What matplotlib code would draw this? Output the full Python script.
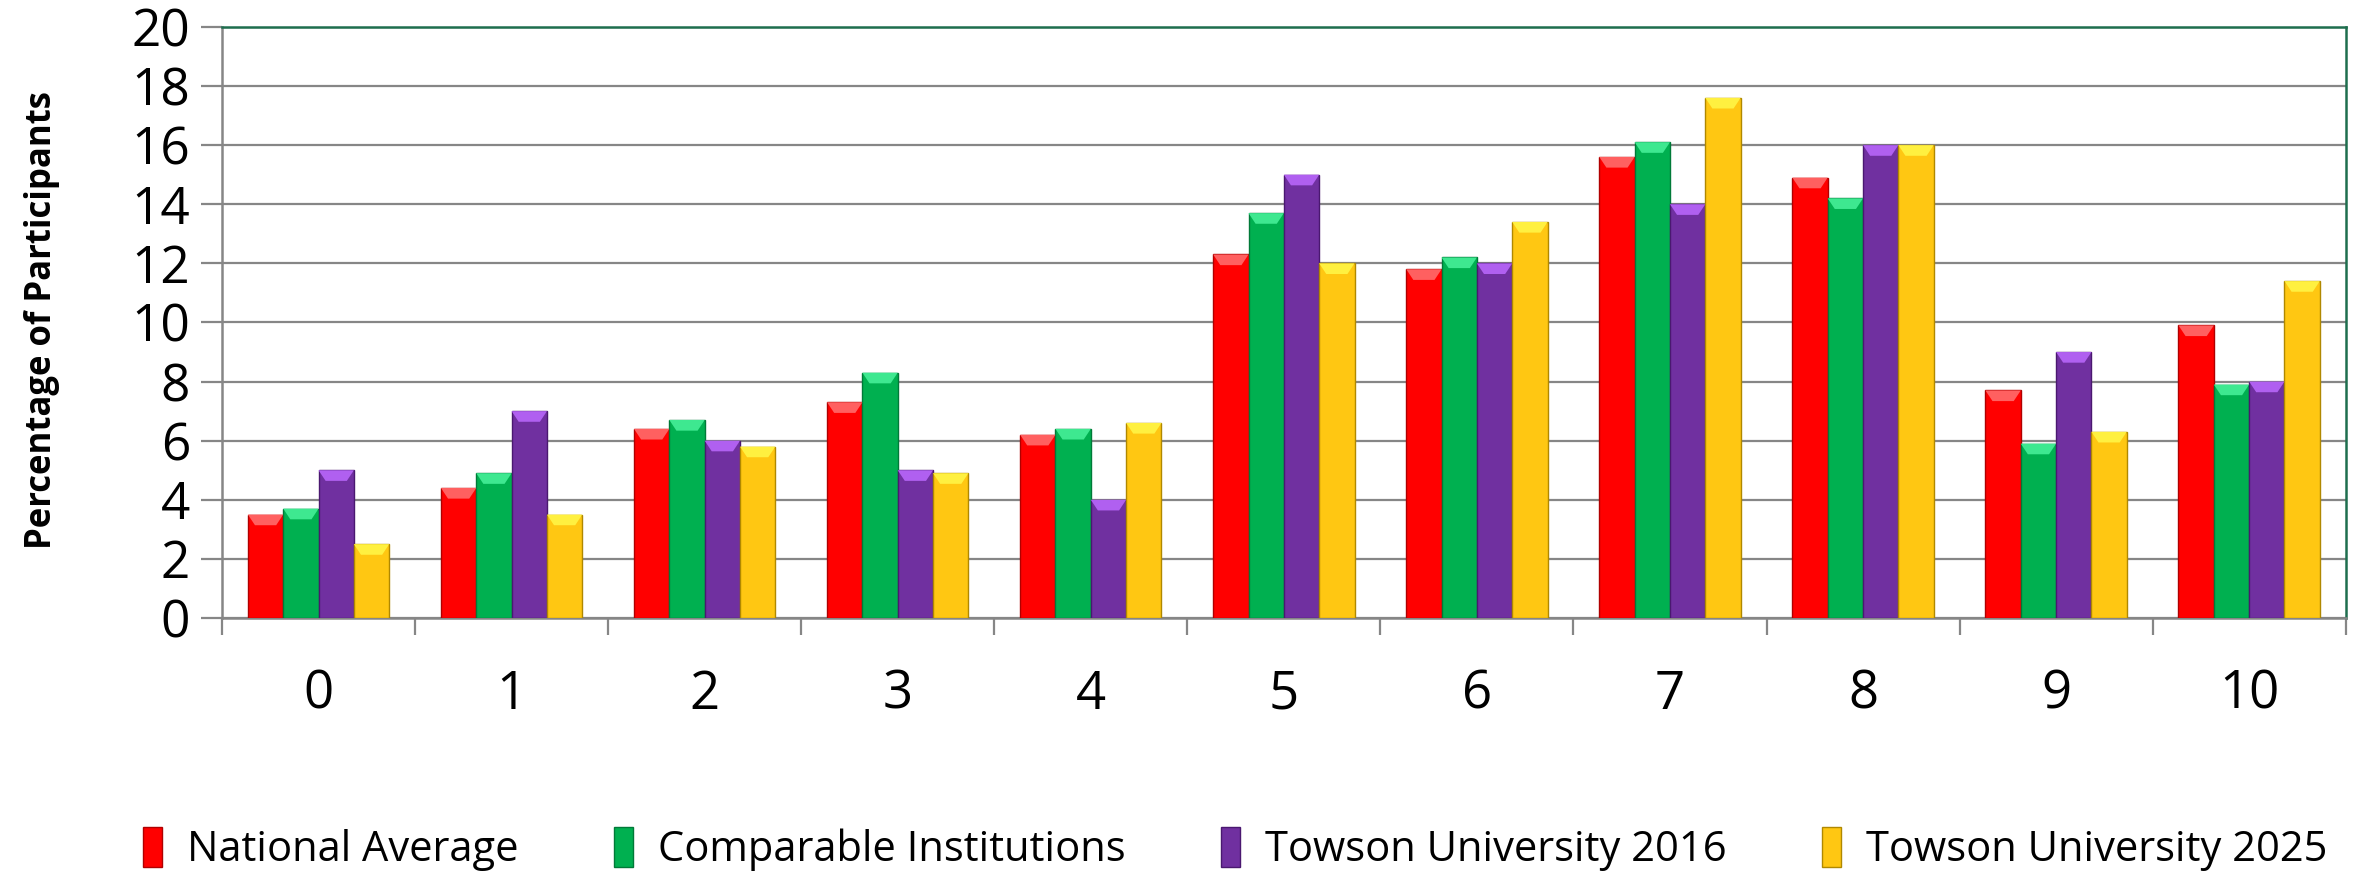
import matplotlib
matplotlib.use('Agg')
import matplotlib.pyplot as plt
from matplotlib.patches import Patch
import numpy as np

plt.rcParams['font.family'] = ['Open Sans', 'DejaVu Sans']

# data
categories = ['0', '1', '2', '3', '4', '5', '6', '7', '8', '9', '10']
national = [3.5, 4.4, 6.4, 7.3, 6.2, 12.3, 11.8, 15.6, 14.9, 7.7, 9.9]
comparable = [3.7, 4.9, 6.7, 8.3, 6.4, 13.7, 12.2, 16.1, 14.2, 5.9, 7.9]
towson_2016 = [5.0, 7.0, 6.0, 5.0, 4.0, 15.0, 12.0, 14.0, 16.0, 9.0, 8.0]
towson_2025 = [2.5, 3.5, 5.8, 4.9, 6.6, 12.0, 13.4, 17.6, 16.0, 6.3, 11.4]
series_names = ['National Average', 'Comparable Institutions',
                'Towson University 2016', 'Towson University 2025']

series = [national, comparable, towson_2016, towson_2025]
faces = ['#FF0000', '#00B050', '#7030A0', '#FFC712']
tops = ['#FF6060', '#3EE890', '#B060F0', '#FFF040']
edges = ['#B00000', '#007A38', '#4A1870', '#B08800']

fig = plt.figure(figsize=(23.57, 8.77), dpi=100)
ax = fig.add_axes([0.0942, 0.2953, 0.901, 0.674])

x = np.arange(len(categories))
w = 0.183
for i, vals in enumerate(series):
    bars = ax.bar(x + (i - 1.5) * w, vals, w, color=faces[i],
                  edgecolor=edges[i], linewidth=1.0, zorder=3)
    # bevelled top like the excel 3d effect
    for b in bars:
        bx, bw, bh = b.get_x(), b.get_width(), b.get_height()
        d = 0.36
        ax.fill([bx, bx + bw, bx + bw * 0.8, bx + bw * 0.2],
                [bh, bh, bh - d, bh - d], color=tops[i], zorder=4, lw=0)

ax.set_xlim(-0.5, len(categories) - 0.5)
ax.set_ylim(0, 20)
ax.set_yticks(np.arange(0, 21, 2))
ax.set_xticks(x)
ax.set_xticklabels(categories)
ax.set_xticks(np.arange(-0.5, len(categories), 1), minor=True)
ax.tick_params(axis='x', which='major', length=0, pad=36, labelsize=38)
ax.tick_params(axis='x', which='minor', length=12, width=1.6, color='#868686')
ax.tick_params(axis='y', length=15, width=1.6, color='#868686', pad=8, labelsize=37)

ax.yaxis.grid(True, color='#868686', linewidth=1.6, zorder=0)
ax.set_axisbelow(True)
for side in ['left', 'bottom']:
    ax.spines[side].set_color('#868686')
    ax.spines[side].set_linewidth(1.8)
for side in ['top', 'right']:
    ax.spines[side].set_color('#1E6E4E')
    ax.spines[side].set_linewidth(1.8)

fig.text(0.018, 1 - 320 / 877, 'Percentage of Participants', rotation=90,
         ha='center', va='center', fontsize=25, fontweight='bold')

handles = [Patch(facecolor=faces[i], edgecolor=edges[i]) for i in range(4)]
fig.legend(handles, series_names, loc='center', bbox_to_anchor=(0.524, 1 - 849 / 877),
           ncol=4, frameon=False, fontsize=30, handlelength=0.45, handleheight=1.1,
           handletextpad=0.6, columnspacing=2.3)

fig.savefig('out.png', dpi=100)
